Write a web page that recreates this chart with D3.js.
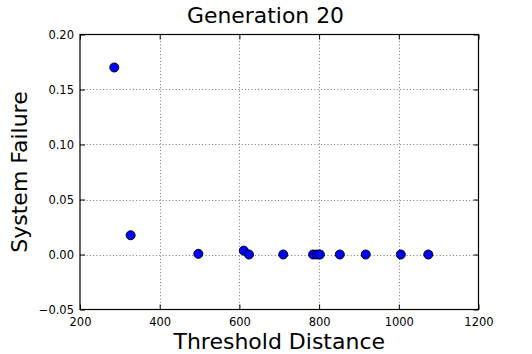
<!DOCTYPE html>
<html>
<head>
<meta charset="utf-8">
<script src="https://cdn.jsdelivr.net/npm/d3@7"></script>
<style>
  html, body { margin: 0; padding: 0; background: #fff; }
  text { font-family: "DejaVu Sans", sans-serif; fill: #000; }
</style>
</head>
<body>
<svg id="chart" width="532" height="354"></svg>
<script>
const titleText = "Generation 20";
const xLabel = "Threshold Distance";
const yLabel = "System Failure";
const thresholdDistance = [286, 327, 497, 611, 624, 710, 785, 794, 802, 852, 917, 1005, 1074];
const systemFailure = [0.170, 0.0175, 0.0006, 0.0035, 0, 0, 0, 0, 0, 0, 0, 0, 0];
const xTicks = [200, 400, 600, 800, 1000, 1200];
const yTicks = [-0.05, 0.00, 0.05, 0.10, 0.15, 0.20];

const svg = d3.select("#chart");
const m = { left: 80, right: 478.5, top: 34.5, bottom: 309.5 };

const x = d3.scaleLinear().domain([200, 1200]).range([m.left, m.right]);
const y = d3.scaleLinear().domain([-0.05, 0.20]).range([m.bottom, m.top]);

const fmtY = v => d3.format(".2f")(v).replace("-", "\u2212");

// grid
const grid = svg.append("g");
grid.selectAll("line.gx").data(xTicks.slice(1, -1)).enter().append("line")
  .attr("x1", d => Math.round(x(d)) + 0.5).attr("x2", d => Math.round(x(d)) + 0.5)
  .attr("y1", m.top).attr("y2", m.bottom)
  .attr("stroke", "#777").attr("stroke-width", 1).attr("stroke-dasharray", "1,2.3");
grid.selectAll("line.gy").data(yTicks.slice(1, -1)).enter().append("line")
  .attr("y1", d => Math.round(y(d)) + 0.5).attr("y2", d => Math.round(y(d)) + 0.5)
  .attr("x1", m.left).attr("x2", m.right)
  .attr("stroke", "#777").attr("stroke-width", 1).attr("stroke-dasharray", "1,2.3");

// axes with inward ticks on all sides
const tl = 5;
svg.append("g").attr("transform", `translate(0,${m.bottom})`)
  .call(d3.axisBottom(x).tickValues(xTicks).tickSize(-tl).tickPadding(8).tickFormat(d3.format("d")))
  .call(g => g.select(".domain").remove())
  .call(g => g.selectAll("text").attr("font-size", "11.5px").attr("font-family", "DejaVu Sans"));
svg.append("g").attr("transform", `translate(0,${m.top})`)
  .call(d3.axisTop(x).tickValues(xTicks).tickSize(-tl).tickFormat(""))
  .call(g => g.select(".domain").remove());
svg.append("g").attr("transform", `translate(${m.left},0)`)
  .call(d3.axisLeft(y).tickValues(yTicks).tickSize(-tl).tickPadding(6).tickFormat(fmtY))
  .call(g => g.select(".domain").remove())
  .call(g => g.selectAll("text").attr("font-size", "11.5px").attr("font-family", "DejaVu Sans"));
svg.append("g").attr("transform", `translate(${m.right},0)`)
  .call(d3.axisRight(y).tickValues(yTicks).tickSize(-tl).tickFormat(""))
  .call(g => g.select(".domain").remove());

svg.selectAll(".tick line").attr("stroke", "#000");

// frame
svg.append("rect")
  .attr("x", m.left).attr("y", m.top)
  .attr("width", m.right - m.left).attr("height", m.bottom - m.top)
  .attr("fill", "none").attr("stroke", "#000").attr("stroke-width", 1.2);

// points
const pts = thresholdDistance.map((d, i) => ({ x: d, y: systemFailure[i] }));
svg.append("g").selectAll("circle").data(pts).enter().append("circle")
  .attr("cx", d => x(d.x)).attr("cy", d => y(d.y)).attr("r", 4.5)
  .attr("fill", "#0000ff").attr("stroke", "#000").attr("stroke-width", 1);

// labels
svg.append("text").attr("x", 265.5).attr("y", 23)
  .attr("text-anchor", "middle").attr("font-size", "21.5px")
  .attr("textLength", 157).attr("lengthAdjust", "spacingAndGlyphs").text(titleText);
svg.append("text").attr("x", (m.left + m.right) / 2).attr("y", 349)
  .attr("text-anchor", "middle").attr("font-size", "22px").text(xLabel);
svg.append("text").attr("transform", `translate(27,${(m.top + m.bottom) / 2}) rotate(-90)`)
  .attr("text-anchor", "middle").attr("font-size", "22px").text(yLabel);
</script>
</body>
</html>
